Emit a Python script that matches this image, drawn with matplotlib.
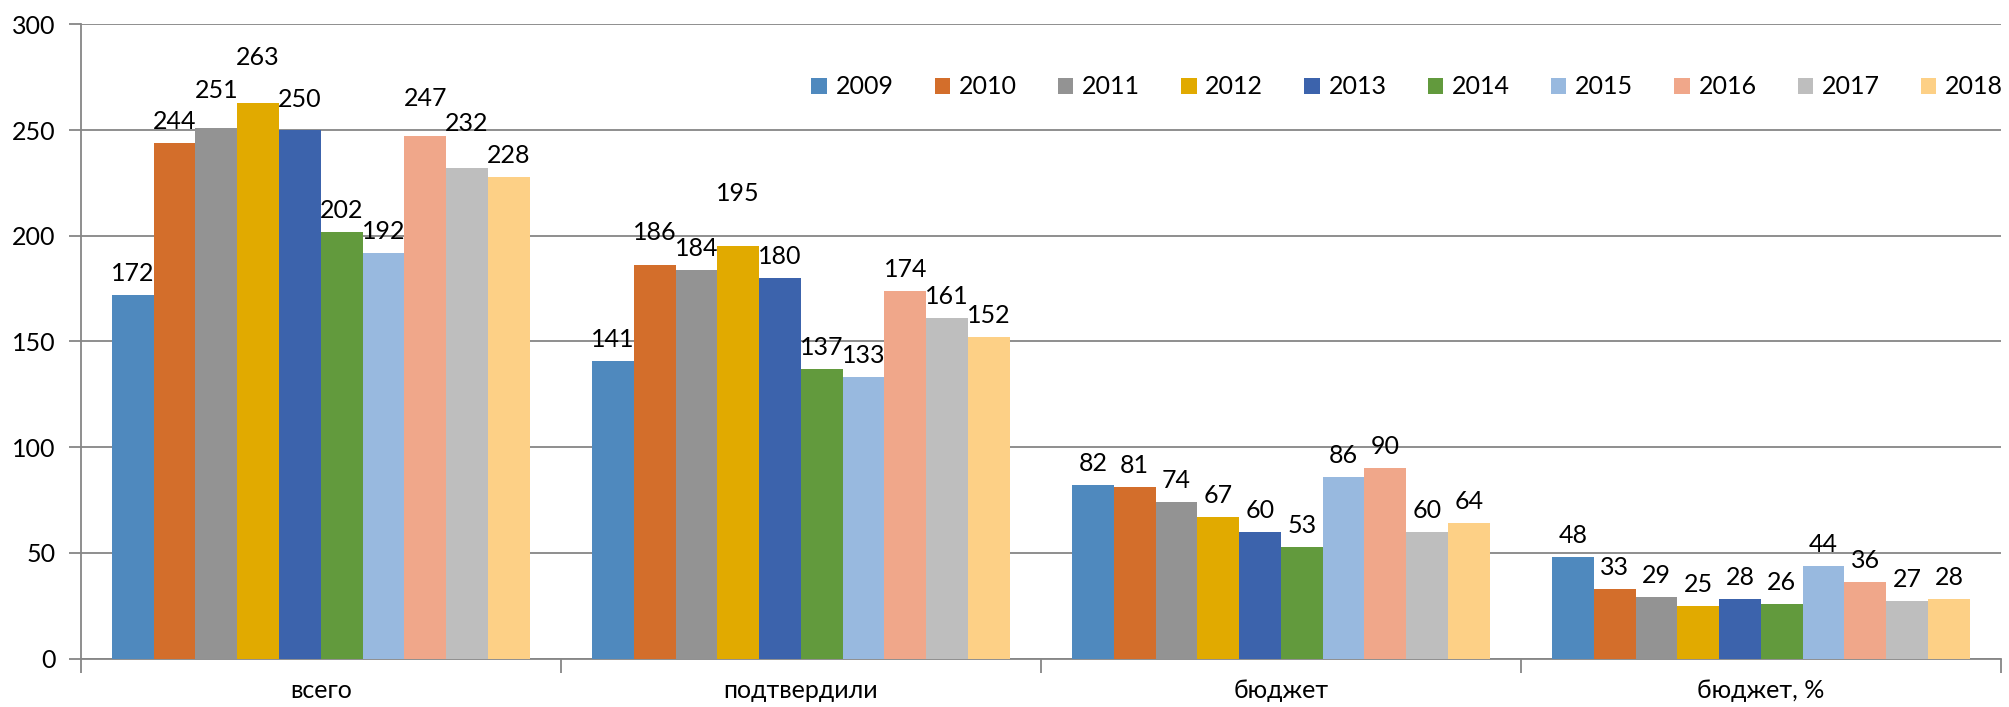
import matplotlib
matplotlib.use("Agg")
import matplotlib.pyplot as plt
import numpy as np

# ---- data ----
categories = ["всего", "подтвердили", "бюджет", "бюджет, %"]
years = ["2009", "2010", "2011", "2012", "2013", "2014", "2015", "2016", "2017", "2018"]
v2009 = [172, 141, 82, 48]
v2010 = [244, 186, 81, 33]
v2011 = [251, 184, 74, 29]
v2012 = [263, 195, 67, 25]
v2013 = [250, 180, 60, 28]
v2014 = [202, 137, 53, 26]
v2015 = [192, 133, 86, 44]
v2016 = [247, 174, 90, 36]
v2017 = [232, 161, 60, 27]
v2018 = [228, 152, 64, 28]
series = [v2009, v2010, v2011, v2012, v2013, v2014, v2015, v2016, v2017, v2018]

# ---- style ----
colors = ["#4F89BE", "#D36E2B", "#939393", "#E1AA00", "#3C63AC",
          "#629A3D", "#98B9DF", "#F0A78A", "#BEBEBE", "#FDD086"]
# extra upward shift (pixels) of some data labels, as in the reference (overlap avoidance)
label_lift = {(0, 2): 16, (0, 3): 24, (0, 4): 9, (0, 7): 16, (0, 8): 23,
              (1, 1): 11, (1, 3): 31}

FONT = ["Lato", "Roboto", "DejaVu Sans"]
plt.rcParams["font.family"] = FONT
FS = 18
GRID = "#868686"

fig = plt.figure(figsize=(20.09, 7.07), dpi=100)
ax = fig.add_axes([0.0402, 0.0685, 0.9558, 0.897])

n = len(series)
group_w = 0.87
bw = group_w / n
x = np.arange(len(categories))
px2pt = 72 / 100

for i, vals in enumerate(series):
    pos = x - group_w / 2 + bw * (i + 0.5)
    ax.bar(pos, vals, width=bw, color=colors[i], label=years[i], zorder=3, linewidth=0)
    for c, (p, v) in enumerate(zip(pos, vals)):
        lift = label_lift.get((c, i), 0)
        ax.annotate(str(v), (p, v), xytext=(0, (14 + lift) * px2pt),
                    textcoords="offset points", ha="center", va="baseline",
                    fontsize=FS, color="#000000", zorder=5)

ax.set_xlim(-0.5, len(categories) - 0.5)
ax.set_ylim(0, 300)
ax.set_yticks(np.arange(0, 301, 50))
ax.yaxis.grid(True, color=GRID, linewidth=1.3, zorder=0)
ax.set_axisbelow(True)

ax.set_xticks(x)
ax.set_xticklabels(categories, fontsize=FS)
ax.tick_params(axis="x", which="major", length=0, pad=15)
ax.set_xticks(np.arange(-0.5, len(categories), 1.0), minor=True)
ax.tick_params(axis="x", which="minor", length=10, width=1.3, color=GRID, direction="out")
ax.tick_params(axis="y", length=9, width=1.3, color=GRID, pad=9, labelsize=FS)

for s in ["top", "right"]:
    ax.spines[s].set_visible(False)
for s in ["left", "bottom"]:
    ax.spines[s].set_color(GRID)
    ax.spines[s].set_linewidth(1.3)

leg = fig.legend(loc="center right", bbox_to_anchor=(2003 / 2009, 1 - 87 / 707),
                 ncol=n, frameon=False, fontsize=FS,
                 handlelength=0.62, handleheight=0.62, handletextpad=0.35,
                 columnspacing=1.64, borderpad=0, borderaxespad=0)

fig.savefig("out.png", dpi=100)
